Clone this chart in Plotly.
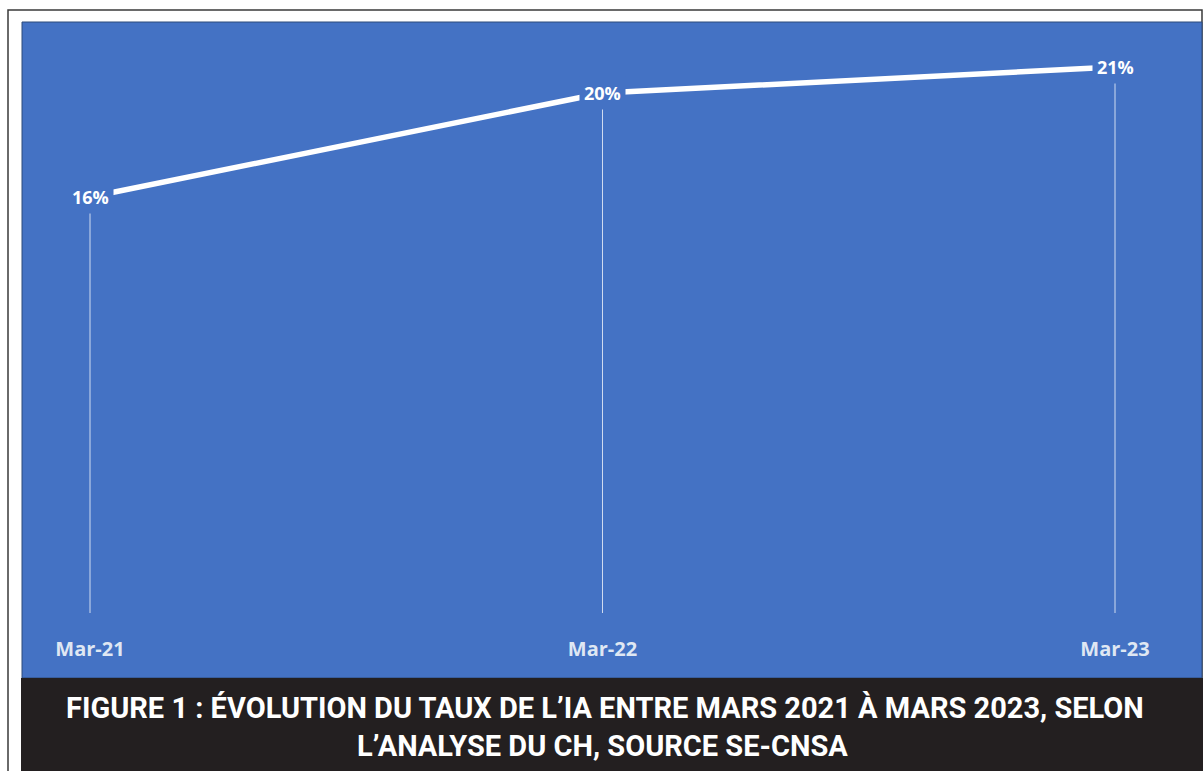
import plotly.graph_objects as go

# Data
categories = ["Mar-21", "Mar-22", "Mar-23"]
taux_ia = [16, 20, 21]  # percent
label_text = ["16%", "20%", "21%"]

caption_line1 = "FIGURE 1 : ÉVOLUTION DU TAUX DE L’IA ENTRE MARS 2021 À MARS 2023, SELON"
caption_line2 = "L’ANALYSE DU CH, SOURCE SE-CNSA"

W, H = 1203, 771
ML, MR, MT, MB = 22, 1, 22, 139
PW = W - ML - MR
PH = H - MT - MB
BLUE = "#4472C4"


def px_x(px):
    return (px - ML) / PW


def px_y(py):
    return (H - MB - py) / PH


x_idx = list(range(len(categories)))

fig = go.Figure()

# drop lines from each point to the baseline
fig.add_trace(go.Scatter(
    x=x_idx, y=taux_ia, mode="markers",
    marker=dict(size=1, color="rgba(0,0,0,0)"),
    error_y=dict(type="data", symmetric=False, array=[0] * len(taux_ia),
                 arrayminus=taux_ia, thickness=1, width=0,
                 color="rgba(255,255,255,0.75)"),
    hoverinfo="skip", showlegend=False,
))

# main line
fig.add_trace(go.Scatter(
    x=x_idx, y=taux_ia, mode="lines",
    line=dict(color="white", width=5.5),
    showlegend=False,
))

annotations = []
for xi, v, t in zip(x_idx, taux_ia, label_text):
    annotations.append(dict(
        x=xi, y=v, xref="x", yref="y", text=t, showarrow=False,
        font=dict(family="Open Sans", size=18, color="white", weight="bold"),
        bgcolor=BLUE, borderpad=4, xanchor="center", yanchor="middle",
    ))

cap_font = dict(family="Roboto", size=29, color="white", weight="bold")
annotations.append(dict(
    x=px_x(605), y=px_y(708), xref="paper", yref="paper", text=caption_line1,
    showarrow=False, font=cap_font, xanchor="center", yanchor="middle",
))
annotations.append(dict(
    x=px_x(602), y=px_y(746), xref="paper", yref="paper", text=caption_line2,
    showarrow=False, font=cap_font, xanchor="center", yanchor="middle",
))

shapes = [
    # outer frame
    dict(type="rect", xref="paper", yref="paper",
         x0=px_x(8), x1=px_x(1202), y0=px_y(790), y1=px_y(10),
         line=dict(color="#3a3a3a", width=1.5), fillcolor="white", layer="below"),
    # blue chart area
    dict(type="rect", xref="paper", yref="paper",
         x0=px_x(22), x1=px_x(1202), y0=px_y(678), y1=px_y(22),
         line=dict(color="#2c4a7a", width=1), fillcolor=BLUE, layer="below"),
    # dark caption band
    dict(type="rect", xref="paper", yref="paper",
         x0=px_x(21), x1=px_x(1204), y0=px_y(772), y1=px_y(678),
         line=dict(width=0), fillcolor="#231f20", layer="below"),
]

# y scale: 0% at pixel 613, 26 px per percent
zero_px = 613
per = 26.0
y_top = (zero_px - MT) / per
y_bot = (zero_px - (H - MB)) / per

# x scale: first point at px 90, spacing 512.5
x0_px = 90
spacing = 512.5
x_left = -(x0_px - ML) / spacing
x_right = (W - MR - x0_px) / spacing

fig.update_layout(
    width=W, height=H, autosize=False,
    margin=dict(l=ML, r=MR, t=MT, b=MB, pad=0),
    paper_bgcolor="white", plot_bgcolor="rgba(0,0,0,0)",
    shapes=shapes, annotations=annotations,
    xaxis=dict(range=[x_left, x_right], tickvals=x_idx, ticktext=categories,
               showgrid=False, zeroline=False, showline=False, ticks="",
               tickfont=dict(family="Open Sans", size=20, color="#dfe7f3", weight="bold"),
               ticklabelstandoff=3, fixedrange=True),
    yaxis=dict(range=[y_bot, y_top], showgrid=False, zeroline=False,
               showline=False, showticklabels=False, ticks="", fixedrange=True),
)

fig.write_html("out.html")
